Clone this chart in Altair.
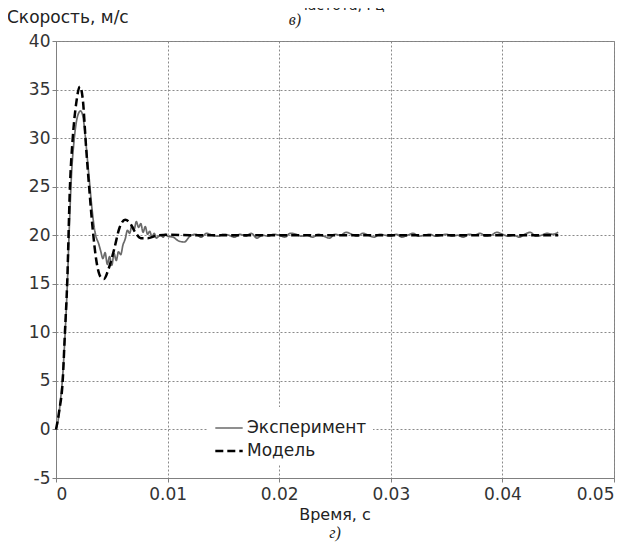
import altair as alt
import numpy as np
import pandas as pd

# ---- data ----
model_t = [0, 0.0003, 0.0006, 0.0008, 0.001, 0.00125, 0.0015, 0.0018, 0.00215, 0.0024,
           0.0027, 0.003, 0.0033, 0.0036, 0.004, 0.0043, 0.0047, 0.0052, 0.0057, 0.0062,
           0.0066, 0.0071, 0.0076, 0.0082, 0.009, 0.010, 0.012, 0.015, 0.02, 0.025,
           0.03, 0.035, 0.04, 0.045]
model_v = [0, 2, 5, 10, 15, 25, 30, 33.5, 35.3, 34,
           29, 24.5, 20.5, 17.5, 15.7, 15.5, 16.5, 18.5, 20.8, 21.6,
           21.3, 20.3, 19.7, 19.7, 19.95, 20.05, 20, 20, 20, 20,
           20, 20, 20, 20]

exp_early_v = [0, 1, 3, 5.5, 9.5, 14.5, 21, 26.5, 29.5, 31.5,
               32.5, 32.8, 32.3, 30.5, 28, 25.5, 23, 21, 19.8, 19.2,
               18.4, 17.6, 18.2, 17.0, 17.8, 16.9, 18.1, 17.4, 18.3, 18.0,
               19.0, 19.6, 20.5, 20.2, 21.0, 20.6, 21.4, 20.8, 21.2, 20.3,
               20.9, 20.1, 20.4, 19.8, 20.2, 19.7, 19.9, 20.0, 19.8, 20.1,
               19.9]
exp_late_v = [19.8, 19.4, 19.3, 19.9, 20.1, 19.8, 20.2, 20.0, 19.9, 20.1,
              20.0, 19.8, 20.1, 19.9, 20.2, 19.7, 20.0, 19.9, 20.1, 20.0,
              19.8, 20.2, 20.1, 19.9, 20.0, 19.8, 20.1, 19.9, 19.7, 20.1,
              20.0, 20.3, 20.1, 19.9, 20.2, 20.0, 19.8, 20.1, 20.0, 19.9,
              20.1, 19.8, 20.0, 20.2, 19.9, 20.0, 20.1, 19.9, 20.0, 20.1,
              19.9, 20.0, 19.8, 20.1, 20.0, 20.2, 19.9, 20.0, 20.3, 20.1,
              19.9, 20.0, 19.8, 20.1, 20.3, 19.9, 20.0, 20.2, 20.1, 20.3]

exp_t = [round(0.0002 * i, 5) for i in range(len(exp_early_v))] + \
        [round(0.0105 + 0.0005 * i, 5) for i in range(len(exp_late_v))]
exp_v = exp_early_v + exp_late_v

x_ticks = [0, 0.01, 0.02, 0.03, 0.04, 0.05]
y_ticks = [-5, 0, 5, 10, 15, 20, 25, 30, 35, 40]
series_names = ["Эксперимент", "Модель"]

df = pd.concat([
    pd.DataFrame({"t": exp_t, "v": exp_v, "s": series_names[0], "o": range(len(exp_t))}),
    pd.DataFrame({"t": model_t, "v": model_v, "s": series_names[1], "o": range(len(model_t))}),
])

FONT = "DejaVu Sans"
W, H = 558, 437

leg = dict(title=None, orient="none", legendX=152, legendY=366,
           symbolType="stroke", symbolSize=750, symbolStrokeWidth=2.5,
           labelFontSize=17, labelFont=FONT, labelColor="#222",
           fillColor="white", padding=6, rowPadding=0, labelOffset=3)

lines = alt.Chart(df).mark_line(interpolate="monotone").encode(
    x=alt.X("t:Q", scale=alt.Scale(domain=[0, 0.05], nice=False),
            axis=alt.Axis(values=x_ticks, title=None, grid=True,
                          labelExpr="datum.value == 0 ? '0' : format(datum.value, '.2f')")),
    y=alt.Y("v:Q", scale=alt.Scale(domain=[-5, 40], nice=False),
            axis=alt.Axis(values=y_ticks, title=None, grid=True,
                          labelExpr="datum.value < 0 ? '-' + abs(datum.value) : '' + datum.value")),
    order="o:Q",
    color=alt.Color("s:N", scale=alt.Scale(domain=series_names, range=["#6a6a6a", "#000000"]),
                    legend=alt.Legend(**leg)),
    strokeDash=alt.StrokeDash("s:N", scale=alt.Scale(domain=series_names, range=[[1, 0], [8, 4]]),
                              legend=alt.Legend(**leg)),
    strokeWidth=alt.StrokeWidth("s:N", scale=alt.Scale(domain=series_names, range=[1.7, 2.5]), legend=None),
)

one = pd.DataFrame({"a": [0]})

def label(txt, x, y, size=16, align="left", style="normal", font=FONT):
    return alt.Chart(one).mark_text(align=align, baseline="middle", fontSize=size,
                                    font=font, fontStyle=style, color="#222").encode(
        x=alt.value(x), y=alt.value(y), text=alt.value(txt))

texts = [
    label("Скорость, м/с", -49, -23, 17),
    label("в)", 239, -21, 16, "center", "italic", "Liberation Serif"),
    label("частота, Гц", 286, -35, 14, "center"),
    label("Время, с", 279, 474, 16, "center"),
    label("г)", 279, 492, 16, "center", "italic", "Liberation Serif"),
]

chart = alt.layer(lines, *texts).properties(
    width=W, height=H,
    autosize=alt.AutoSizeParams(type="none"),
    padding={"left": 48, "top": 33, "right": 10, "bottom": 64},
).configure_view(stroke="#808080", strokeWidth=1).configure_axis(
    domainColor="#808080", tickColor="#808080", tickSize=4,
    gridColor="#8a8a8a", gridDash=[2, 2], gridOpacity=1, gridWidth=1,
    labelFont=FONT, labelFontSize=17, labelColor="#333",
).configure_axisY(labelPadding=2).configure_axisX(labelPadding=4)

chart.save("out.html", embed_options={"renderer": "svg", "actions": False})
